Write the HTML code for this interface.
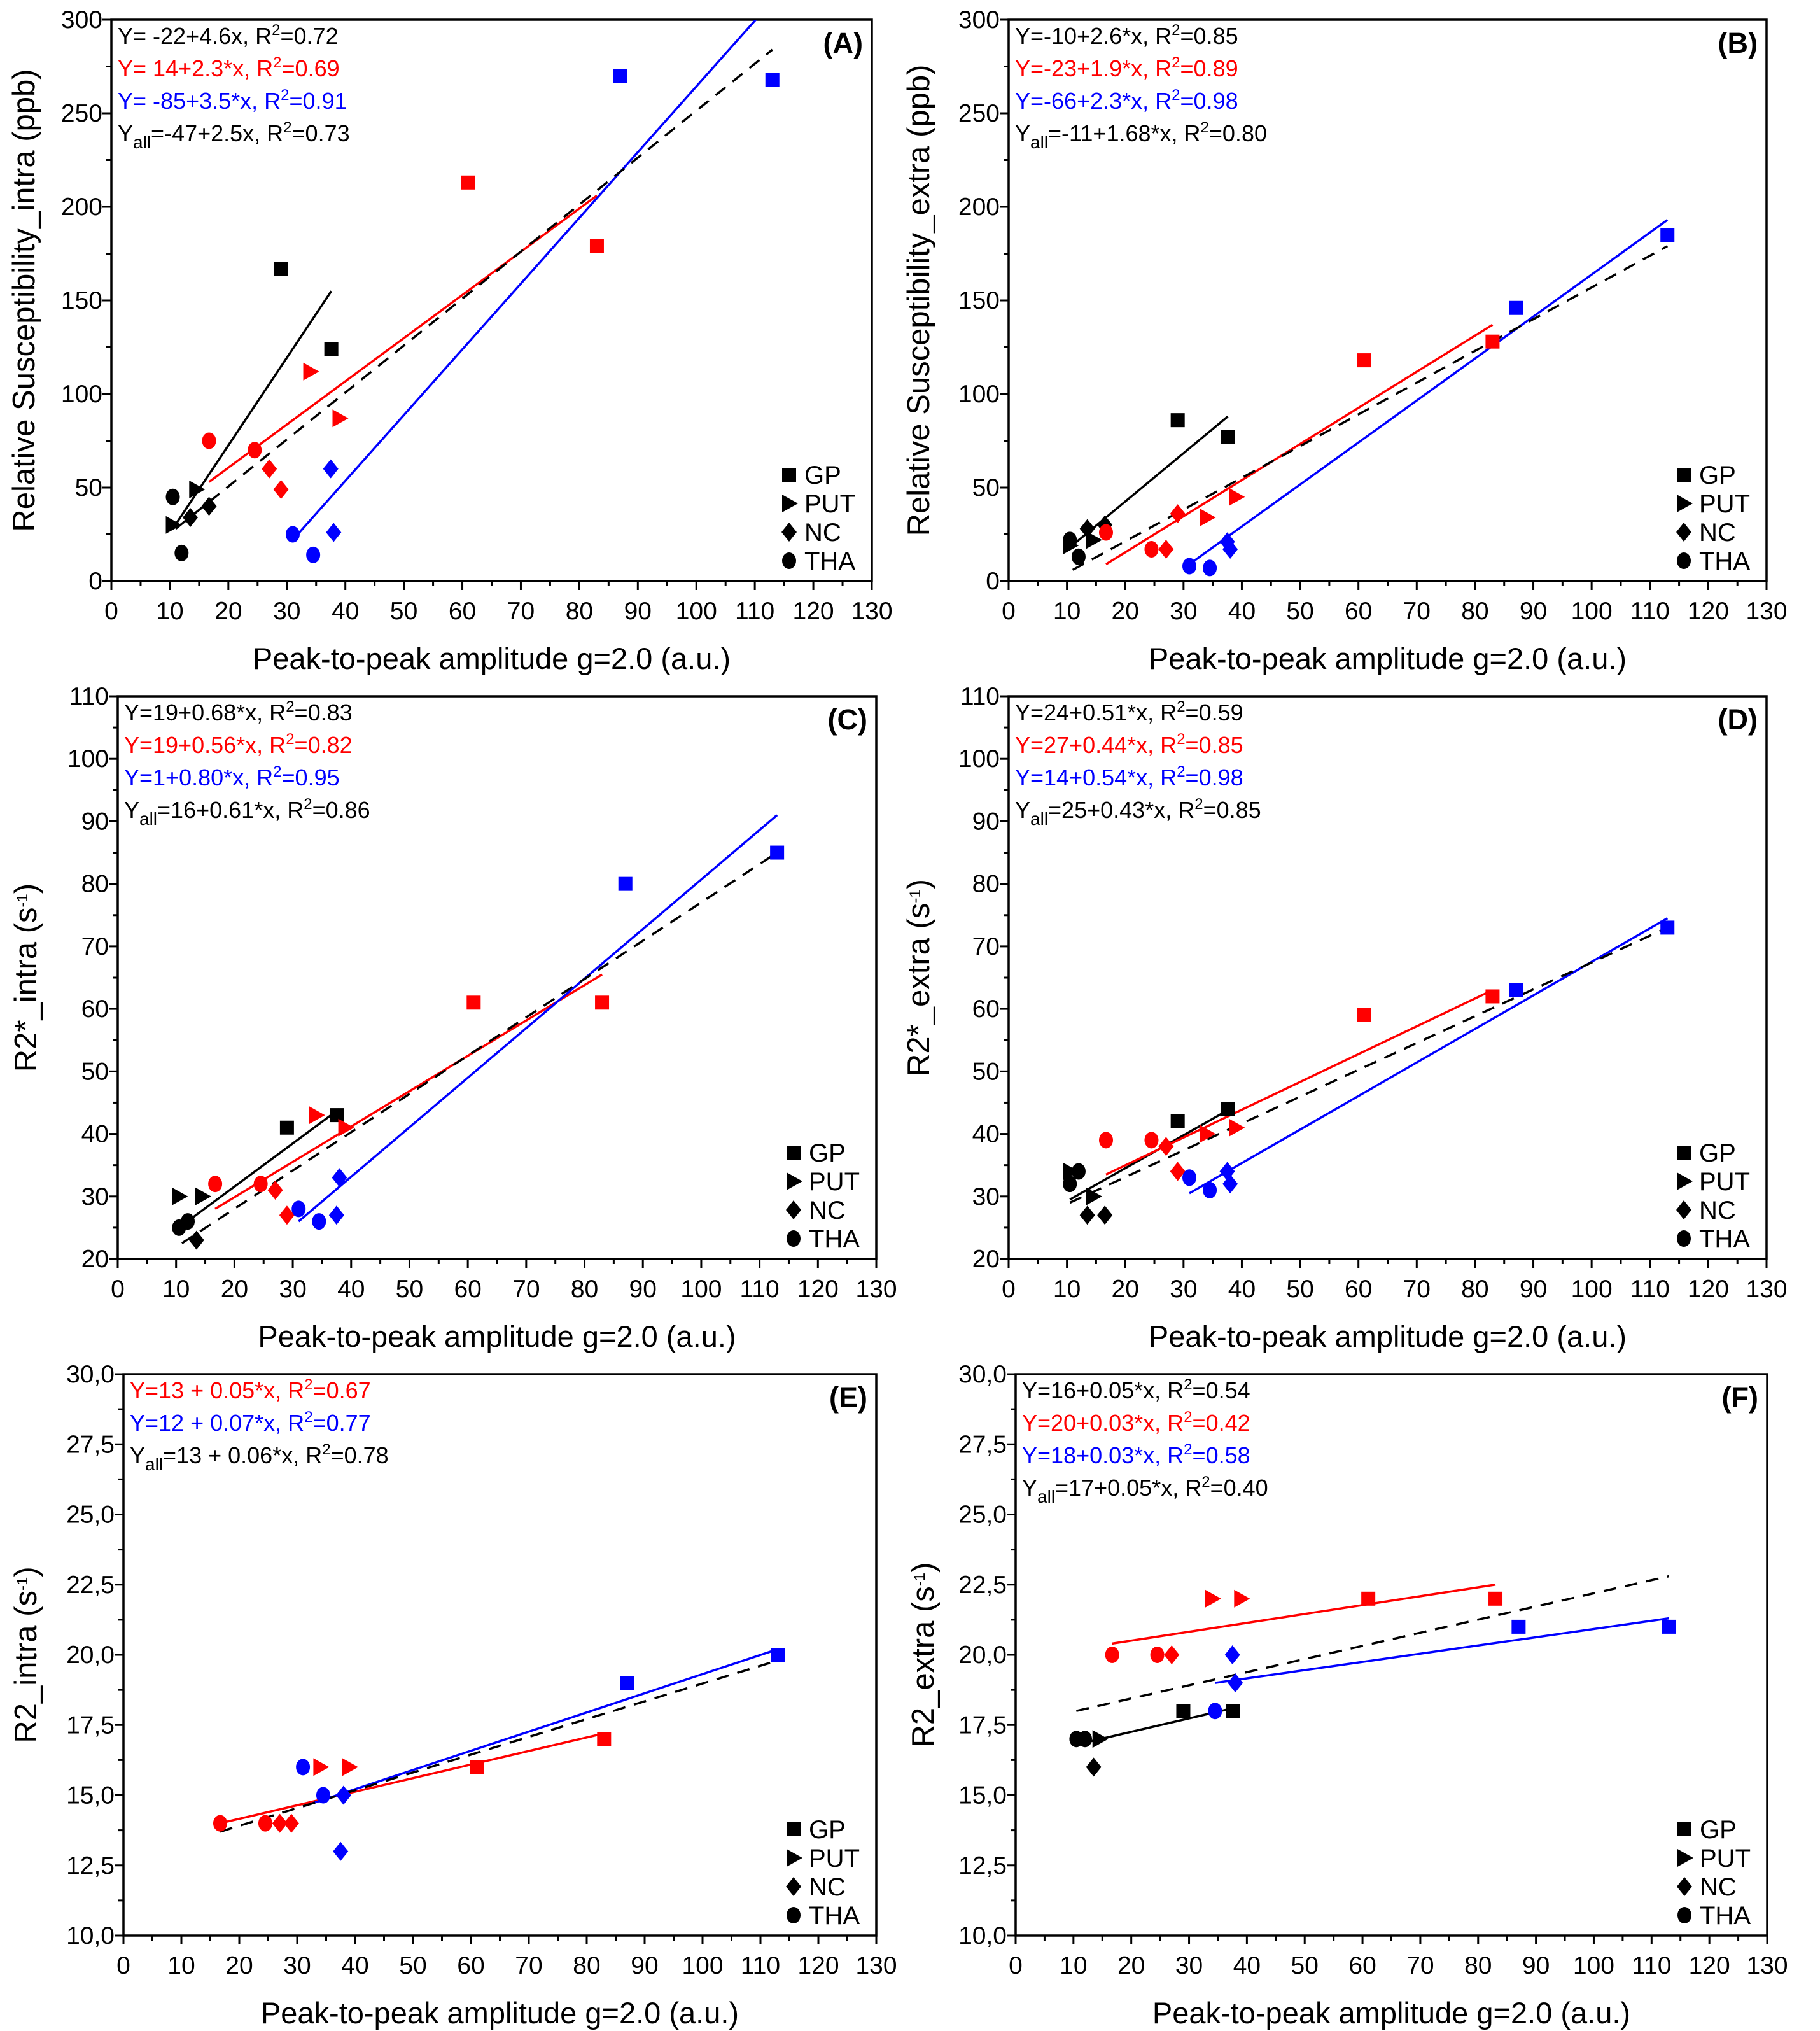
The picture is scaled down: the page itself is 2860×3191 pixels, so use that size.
<!DOCTYPE html>
<html><head><meta charset="utf-8"><style>
html,body{margin:0;padding:0;background:#fff}
svg{display:block;font-family:"Liberation Sans",Arial,sans-serif}
</style></head>
<body>
<svg id="fig" width="2860" height="3191" viewBox="0 0 2860 3191" xmlns="http://www.w3.org/2000/svg">
<rect width="2860" height="3191" fill="#fff"/>
</svg>
<script>
// ---- Data (x = peak-to-peak amplitude, y = measure); group: k=black, r=red, b=blue; shape: GP,PUT,NC,THA
const A_x = [29,37.6,10.5,14.5,13.5,16.7,10.5,12, 61,83,34,39,27,29,16.7,24.5, 87,113,37.5,38,31,34.5];
const A_y = [167,124,30,49,34,40,45,15, 213,179,112,87,60,49,75,70, 270,268,60,26,25,14];
const A_grp = ['k','k','k','k','k','k','k','k','r','r','r','r','r','r','r','r','b','b','b','b','b','b'];
const A_shape = ['GP','GP','PUT','PUT','NC','NC','THA','THA','GP','GP','PUT','PUT','NC','NC','THA','THA','GP','GP','NC','NC','THA','THA'];
const A_fits = [['k',10.5,28,37.6,155,0],['r',16.7,53,83,206,0],['b',31,22,113,310,0],['k',11,28,113,284,1]];

const B_x = [29,37.6,10.5,14.5,13.5,16.5,10.5,12, 61,83,34,39,27,29,16.7,24.5, 87,113,37.5,38,31,34.5];
const B_y = [86,77,19,22,28,30,22,13, 118,128,34,45,17,36,26,17, 146,185,21,17,8,7];
const B_grp = A_grp;
const B_shape = A_shape;
const B_fits = [['k',10.5,18,37.6,88,0],['r',16.7,9,83,137,0],['b',31,9,113,193,0],['k',11,6,113,179,1]];

const C_x = [29,37.6,10.5,14.5,13.5,10.5,12, 61,83,34,39,27,29,16.7,24.5, 87,113,38,37.5,31,34.5];
const C_y = [41,43,30,30,23,25,26, 61,61,43,41,31,27,32,32, 80,85,33,27,28,26];
const C_grp = ['k','k','k','k','k','k','k','r','r','r','r','r','r','r','r','b','b','b','b','b','b'];
const C_shape = ['GP','GP','PUT','PUT','NC','THA','THA','GP','GP','PUT','PUT','NC','NC','THA','THA','GP','GP','NC','NC','THA','THA'];
const C_fits = [['k',10.5,25,38,44,0],['r',16.7,28,83,65.5,0],['b',31,26,113,91,0],['k',11,22.5,113,85,1]];

const D_x = [29,37.6,10.5,14.5,13.5,16.5,10.5,12, 61,83,34,39,27,29,16.7,24.5, 87,113,37.5,38,31,34.5];
const D_y = [42,44,34,30,27,27,32,34, 59,62,40,41,38,34,39,39, 63,73,34,32,33,31];
const D_grp = A_grp;
const D_shape = A_shape;
const D_fits = [['k',10.5,29.5,38,44,0],['r',16.7,33.5,83,63,0],['b',31,30.5,113,74.5,0],['k',10.5,29,113,73,1]];

const E_x = [61,83,34,39,27,29,16.7,24.5, 87,113,37.5,38,31,34.5];
const E_y = [16,17,16,16,14,14,14,14, 19,20,13,15,16,15];
const E_grp = ['r','r','r','r','r','r','r','r','b','b','b','b','b','b'];
const E_shape = ['GP','GP','PUT','PUT','NC','NC','THA','THA','GP','GP','NC','NC','THA','THA'];
const E_fits = [['r',16.7,14,83,17.2,0],['b',31,14.6,113,20.2,0],['k',16.7,13.7,113,19.8,1]];

const F_x = [29,37.6,14.5,13.5,10.5,12, 61,83,34,39,27,16.7,24.5, 87,113,37.5,38,34.5];
const F_y = [18,18,17,16,17,17, 22,22,22,22,20,20,20, 21,21,20,19,18];
const F_grp = ['k','k','k','k','k','k','r','r','r','r','r','r','r','b','b','b','b','b'];
const F_shape = ['GP','GP','PUT','NC','THA','THA','GP','GP','PUT','PUT','NC','THA','THA','GP','GP','NC','NC','THA'];
const F_fits = [['k',10.5,16.8,37.6,18.1,0],['r',16.7,20.4,83,22.5,0],['b',34.5,19,113,21.3,0],['k',10.5,18,113,22.8,1]];

const xTicks = [0,10,20,30,40,50,60,70,80,90,100,110,120,130];

const COL = {k:'#000000', r:'#ff0000', b:'#0000ff'};
const NS = 'http://www.w3.org/2000/svg';
const svg = document.getElementById('fig');
function mk(tag, attrs, parent){
  const e = document.createElementNS(NS, tag);
  for (const k in attrs) e.setAttribute(k, attrs[k]);
  (parent||svg).appendChild(e);
  return e;
}
const sup = t => '<tspan dy="-14" font-size="24">'+t+'</tspan><tspan dy="14">';
const R2 = v => 'R'+sup('2')+'='+v+'</tspan>';
const YALL = '<tspan>Y</tspan><tspan dy="11" font-size="28">all</tspan><tspan dy="-11">';

const panels = [
 {id:'A', l:175, r:1370, t:31, b:913, ymin:0, ymax:300, step:50, minor:25, dec:0,
  x:A_x, y:A_y, g:A_grp, s:A_shape, fits:A_fits, ytx:37,
  title:'Relative Susceptibility_intra (ppb)',
  eqs:[['k','Y= -22+4.6x, '+R2('0.72')],['r','Y= 14+2.3*x, '+R2('0.69')],['b','Y= -85+3.5*x, '+R2('0.91')],['k',YALL+'=-47+2.5x, </tspan>'+R2('0.73')]]},
 {id:'B', l:1585, r:2776, t:31, b:913, ymin:0, ymax:300, step:50, minor:25, dec:0,
  x:B_x, y:B_y, g:B_grp, s:B_shape, fits:B_fits, ytx:1443,
  title:'Relative Susceptibility_extra (ppb)',
  eqs:[['k','Y=-10+2.6*x, '+R2('0.85')],['r','Y=-23+1.9*x, '+R2('0.89')],['b','Y=-66+2.3*x, '+R2('0.98')],['k',YALL+'=-11+1.68*x, </tspan>'+R2('0.80')]]},
 {id:'C', l:185, r:1377, t:1094, b:1978, ymin:20, ymax:110, step:10, minor:5, dec:0,
  x:C_x, y:C_y, g:C_grp, s:C_shape, fits:C_fits, ytx:40,
  title:'R2*_intra (s'+sup('-1')+')</tspan>',
  eqs:[['k','Y=19+0.68*x, '+R2('0.83')],['r','Y=19+0.56*x, '+R2('0.82')],['b','Y=1+0.80*x, '+R2('0.95')],['k',YALL+'=16+0.61*x, </tspan>'+R2('0.86')]]},
 {id:'D', l:1585, r:2776, t:1094, b:1978, ymin:20, ymax:110, step:10, minor:5, dec:0,
  x:D_x, y:D_y, g:D_grp, s:D_shape, fits:D_fits, ytx:1443,
  title:'R2*_extra (s'+sup('-1')+')</tspan>',
  eqs:[['k','Y=24+0.51*x, '+R2('0.59')],['r','Y=27+0.44*x, '+R2('0.85')],['b','Y=14+0.54*x, '+R2('0.98')],['k',YALL+'=25+0.43*x, </tspan>'+R2('0.85')]]},
 {id:'E', l:194, r:1377, t:2159, b:3041, ymin:10, ymax:30, step:2.5, minor:1.25, dec:1,
  x:E_x, y:E_y, g:E_grp, s:E_shape, fits:E_fits, ytx:40,
  title:'R2_intra (s'+sup('-1')+')</tspan>',
  eqs:[['r','Y=13 + 0.05*x, '+R2('0.67')],['b','Y=12 + 0.07*x, '+R2('0.77')],['k',YALL+'=13 + 0.06*x, </tspan>'+R2('0.78')]]},
 {id:'F', l:1596, r:2777, t:2159, b:3041, ymin:10, ymax:30, step:2.5, minor:1.25, dec:1,
  x:F_x, y:F_y, g:F_grp, s:F_shape, fits:F_fits, ytx:1450,
  title:'R2_extra (s'+sup('-1')+')</tspan>',
  eqs:[['k','Y=16+0.05*x, '+R2('0.54')],['r','Y=20+0.03*x, '+R2('0.42')],['b','Y=18+0.03*x, '+R2('0.58')],['k',YALL+'=17+0.05*x, </tspan>'+R2('0.40')]]}
];

function marker(shape, cx, cy, color, parent){
  const h = 11;
  let e;
  if (shape==='GP') e = mk('rect',{x:cx-h,y:cy-h,width:2*h,height:2*h,fill:color},parent);
  else if (shape==='PUT') e = mk('polygon',{points:(cx-h)+','+(cy-h-3)+' '+(cx+h+3)+','+cy+' '+(cx-h)+','+(cy+h+3),fill:color},parent);
  else if (shape==='NC') e = mk('polygon',{points:cx+','+(cy-15)+' '+(cx+12)+','+cy+' '+cx+','+(cy+15)+' '+(cx-12)+','+cy,fill:color},parent);
  else e = mk('ellipse',{cx:cx,cy:cy,rx:11,ry:13,fill:color},parent);
  return e;
}

panels.forEach(p=>{
  const g = mk('g',{});
  
  
  const X = v => p.l + (v-0)/(130-0)*(p.r-p.l);
  const Y = v => p.b - (v-p.ymin)/(p.ymax-p.ymin)*(p.b-p.t);
  const cid = 'clip'+p.id;
  const cp = mk('clipPath',{id:cid},g);
  mk('rect',{x:p.l,y:p.t,width:p.r-p.l,height:p.b-p.t},cp);

  for (let v=0; v<=130; v+=5){
    const major = v%10===0;
    const t = mk('line',{x1:X(v),x2:X(v),y1:p.b,y2:p.b+(major?14:8),stroke:'#000','stroke-width':3},g);
    
    
  }
  xTicks.forEach(v=>{
    const t = mk('text',{x:X(v),y:p.b+60,'font-size':39,'text-anchor':'middle',fill:'#000'},g);
    t.textContent = String(v);
    
    
  });
  const nMinor = Math.round((p.ymax-p.ymin)/p.minor);
  for (let i=0;i<=nMinor;i++){
    const v = p.ymin + i*p.minor;
    const major = i%2===0;
    const t = mk('line',{x1:p.l-(major?14:8),x2:p.l,y1:Y(v),y2:Y(v),stroke:'#000','stroke-width':3},g);
    
    
    if (major){
      const lb = mk('text',{x:p.l-14,y:Y(v)+13,'font-size':39,'text-anchor':'end',fill:'#000'},g);
      lb.textContent = p.dec ? v.toFixed(1).replace('.',',') : String(v);
      
      
    }
  }
  const fr = mk('rect',{x:p.l,y:p.t,width:p.r-p.l,height:p.b-p.t,fill:'none',stroke:'#000','stroke-width':3.5},g);
  
  

  const xt = mk('text',{x:(p.l+p.r)/2,y:p.b+138,'font-size':47,'text-anchor':'middle',fill:'#000'},g);
  xt.textContent = 'Peak-to-peak amplitude g=2.0 (a.u.)';
  
  
  const yt = mk('text',{x:0,y:0,'font-size':49,'text-anchor':'middle',fill:'#000',transform:'translate('+(p.ytx+17)+','+((p.t+p.b)/2)+') rotate(-90)'},g);
  yt.innerHTML = p.title;
  
  

  p.fits.forEach(f=>{
    const a = {x1:X(f[1]),y1:Y(f[2]),x2:X(f[3]),y2:Y(f[4]),stroke:COL[f[0]],'stroke-width':3.5,'clip-path':'url(#'+cid+')'};
    if (f[5]) a['stroke-dasharray']='20 14';
    const ln = mk('line',a,g);
    
    
  });

  p.x.forEach((xv,i)=>{
    const m = marker(p.s[i], X(xv), Y(p.y[i]), COL[p.g[i]], g);
    
    
  });

  p.eqs.forEach((e,i)=>{
    const t = mk('text',{x:p.l+10,y:p.t+38+i*51,'font-size':36,fill:COL[e[0]]},g);
    t.innerHTML = e[1];
    
    
  });

  const pl = mk('text',{x:p.r-14,y:p.t+52,'font-size':45,'font-weight':'bold','text-anchor':'end',fill:'#000'},g);
  pl.textContent = '('+p.id+')';
  
  

  ['GP','PUT','NC','THA'].forEach((s,i)=>{
    const cy = p.b - 167 + i*45;
    const m = marker(s, p.r-130, cy, '#000', g);
    
    
    const t = mk('text',{x:p.r-106,y:cy+14,'font-size':40,fill:'#000'},g);
    t.textContent = s;
    
    
  });
});
</script>
</body></html>
